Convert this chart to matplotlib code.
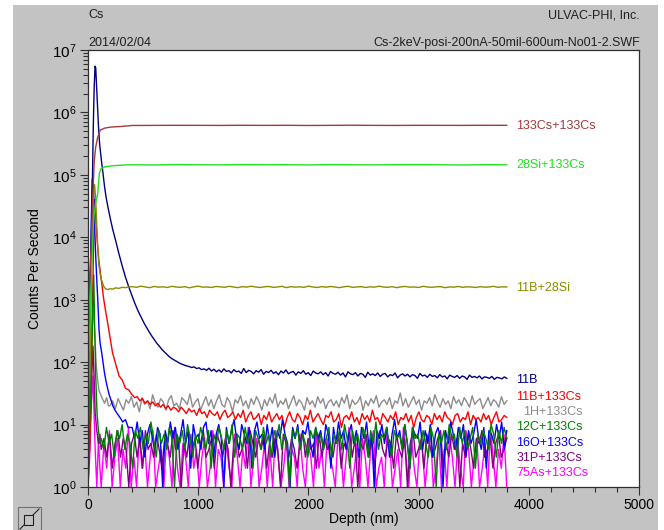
import numpy as np
import matplotlib
matplotlib.use("Agg")
import matplotlib.pyplot as plt
from matplotlib.patches import Rectangle
from matplotlib.lines import Line2D
from matplotlib.ticker import LogLocator, MultipleLocator, NullFormatter

plt.rcParams['font.family'] = ['Liberation Sans', 'DejaVu Sans']
plt.rcParams['font.size'] = 9
plt.rcParams['mathtext.fontset'] = 'custom'
plt.rcParams['mathtext.rm'] = 'Liberation Sans'
plt.rcParams['mathtext.default'] = 'regular'

END_DEPTH = 3800

# ---- data (depth in nm, counts per second) ----
# 133Cs+133Cs
cs2_head_depth = [0, 15, 30, 42, 50, 57, 70, 88, 111, 150, 200, 250, 300, 340, 370]
cs2_head = [800, 2000, 8000, 4e4, 9e4, 1.7e5, 2.8e5, 4e5, 5.2e5, 5.6e5, 5.8e5, 5.9e5, 5.95e5, 6.05e5, 6.1e5]
cs2_tail = [618000, 620000, 622000, 621000, 619000, 623000, 620000, 622000, 618000,
            621000, 624000, 620000, 619000, 622000, 621000, 620000, 623000, 621000]

# 28Si+133Cs
si_head_depth = [0, 15, 30, 45, 55, 68, 88, 103, 118, 135, 160, 200, 250, 300, 350]
si_head = [40, 300, 2500, 1.2e4, 2.2e4, 3.5e4, 5e4, 1.05e5, 1.25e5, 1.3e5, 1.35e5, 1.38e5, 1.41e5, 1.43e5, 1.44e5]
si_tail = [145000, 144000, 146000, 145000, 144500, 146000, 145000, 145500, 144000,
           146000, 145000, 144500, 145500, 146000, 145000, 144000, 145500, 145000]

# 11B+28Si
bsi_head_depth = [0, 10, 20, 30, 40, 50, 60, 70, 80, 90, 100, 115, 130, 145, 160, 180,
                  200, 225, 250, 280, 310, 340, 370]
bsi_head = [15, 40, 150, 1500, 1.5e4, 5e4, 7e4, 4e4, 1.5e4, 6e3, 3.4e3, 2.3e3, 1.9e3, 1.6e3,
            1.5e3, 1.45e3, 1.5e3, 1.48e3, 1.55e3, 1.52e3, 1.58e3, 1.56e3, 1.6e3]
bsi_tail = [1620, 1580, 1650, 1600, 1560, 1630, 1590, 1610, 1570, 1640, 1600, 1580, 1620, 1550,
            1610, 1650, 1590, 1600, 1570, 1630, 1610, 1580, 1640, 1600, 1560, 1620, 1590, 1650,
            1600, 1570, 1610, 1630, 1580, 1600, 1640, 1560, 1620, 1590, 1610, 1580, 1650, 1600,
            1570, 1620, 1590, 1630, 1600, 1560, 1610, 1640, 1580, 1600, 1620, 1570, 1610, 1590,
            1650, 1600, 1580, 1620, 1560, 1610, 1630, 1590, 1600, 1570, 1640, 1600, 1580, 1610,
            1620, 1560, 1600, 1590, 1630, 1580, 1610, 1600, 1570, 1620, 1590, 1600, 1640, 1580,
            1610, 1600]

# 11B
b11_head_depth = [0, 10, 20, 30, 40, 48, 56, 64, 70, 78, 86, 95, 105, 120, 135, 150, 165,
                  185, 205, 226, 250, 280, 310, 340, 370]
b11_head = [1700, 1800, 2600, 9000, 8e4, 6e5, 2.5e6, 5.5e6, 5.2e6, 2.6e6, 1.2e6, 6e5, 3.2e5,
            1.8e5, 1.1e5, 6.5e4, 4.3e4, 2.8e4, 1.9e4, 1.3e4, 9000, 5500, 3500, 2300, 1600]
b11_tail = [1150, 900, 720, 590, 490, 410, 350, 300, 260, 228, 200, 180, 160, 146, 133, 122,
            114, 108, 102, 97, 93, 90, 87, 85, 82, 84, 79, 81, 76, 78, 74, 80, 72, 77, 70, 75,
            69, 78, 71, 73, 67, 76, 70, 72, 66, 79, 68, 74, 71, 65, 73, 69, 76, 64, 71, 68, 74,
            66, 70, 63, 72, 67, 75, 65, 69, 71, 62, 70, 66, 73, 64, 68, 61, 72, 67, 65, 70, 63,
            68, 60, 71, 66, 64, 69, 62, 67, 58, 70, 65, 63, 68, 60, 66, 64, 57, 69, 62, 65, 61,
            67, 59, 64, 66, 58, 63, 61, 67, 56, 62, 65, 60, 64, 58, 63, 61, 55, 66, 60, 62, 57,
            64, 59, 61, 56, 63, 58, 60, 54, 62, 59, 57, 61, 55, 60, 58, 53, 62, 57, 59, 56, 60,
            54, 58, 57, 55, 59, 53, 57, 56, 54, 58, 55]

# 11B+133Cs
bcs_head_depth = [0, 15, 30, 42, 52, 60, 68, 78, 88, 100, 118, 140, 160, 178, 200, 223, 250,
                  282, 310, 340, 370]
bcs_head = [2, 4, 40, 800, 1.2e4, 4e4, 2.5e4, 1.2e4, 7e3, 4e3, 2.3e3, 1.1e3, 650, 430, 250,
            140, 95, 60, 52, 38, 36]
bcs_tail = [30, 27, 28, 24, 26, 22, 24, 21, 23, 20, 22, 19, 21, 18, 20, 17, 19, 18, 16, 19, 17,
            15, 18, 16, 17, 14, 18, 15, 16, 13, 17, 15, 14, 16, 12, 15, 17, 13, 14, 16, 12, 15,
            13, 17, 11, 14, 16, 12, 13, 15, 10, 14, 12, 16, 11, 13, 15, 12, 14, 9, 13, 16, 12,
            11, 15, 13, 10, 14, 12, 17, 11, 13, 15, 12, 10, 14, 13, 16, 11, 12, 15, 9, 13, 14,
            12, 16, 11, 13, 10, 15, 12, 14, 11, 17, 12, 13, 10, 15, 13, 11, 14, 12, 16, 10, 13,
            12, 15, 11, 14, 9, 13, 16, 12, 11, 14, 13, 10, 15, 12, 14, 11, 16, 13, 12, 10, 14,
            15, 11, 13, 12, 16, 10, 14, 12, 13, 11, 15, 12, 14, 10, 13, 16, 11, 12, 14, 13]

# 1H+133Cs
h1_head_depth = [0, 15, 30, 45, 55, 65, 75, 88, 100, 115, 130, 150, 170, 185]
h1_head = [8, 40, 250, 700, 450, 200, 90, 50, 35, 30, 26, 22, 27, 20]
h1_tail = [20, 24, 18, 26, 21, 17, 25, 22, 28, 19, 23, 16, 27, 21, 24, 18, 30, 22, 19, 26, 23,
           17, 25, 29, 20, 22, 18, 27, 24, 21, 31, 19, 23, 26, 17, 22, 28, 20, 25, 18, 24, 30,
           21, 19, 27, 23, 16, 25, 22, 29, 20, 24, 18, 26, 21, 28, 23, 17, 25, 20, 27, 22, 31,
           19, 24, 21, 26, 18, 23, 29, 20, 25, 22, 17, 27, 21, 24, 19, 28, 22, 26, 18, 23, 25,
           20, 24, 19, 27, 22, 30, 18, 25, 21, 23, 28, 17, 24, 20, 26, 22, 29, 19, 23, 25, 21,
           27, 18, 24, 22, 32, 20, 26, 19, 23, 28, 21, 25, 17, 24, 22, 27, 20, 30, 23, 19, 26,
           21, 24, 18, 28, 22, 25, 20, 27, 23, 19, 29, 21, 24, 26, 18, 22, 27, 20, 25, 23, 19,
           28, 21, 24]

# 12C+133Cs
c12_head_depth = [0, 15, 30, 42, 52, 60, 70, 82, 95, 108]
c12_head = [2, 10, 80, 600, 2500, 400, 60, 15, 8, 5]
c12_tail = [6, 4, 9, 5, 7, 3, 8, 6, 10, 4, 7, 5, 2, 8, 6, 9, 4, 7, 5, 11, 6, 3, 8, 5, 7, 4, 9,
            6, 1, 7, 5, 8, 4, 10, 6, 3, 7, 5, 9, 6, 4, 8, 2, 7, 5, 9, 6, 4, 8, 5, 10, 3, 7, 6, 4,
            9, 5, 7, 2, 8, 6, 4, 9, 5, 7, 3, 8, 6, 10, 4, 7, 5, 1, 8, 6, 9, 4, 7, 5, 3, 8, 6, 9,
            5, 7, 4, 6, 9, 3, 7, 5, 8, 4, 10, 6, 2, 8, 5, 7, 4, 9, 6, 3, 8, 5, 11, 4, 7, 6, 9, 5,
            3, 8, 6, 7, 4, 10, 5, 2, 9, 6, 7, 4, 8, 5, 3, 9, 6, 1, 7, 5, 8, 4, 10, 6, 7, 3, 9, 5,
            8, 4, 6, 9, 2, 7, 5, 8, 6, 4, 10, 7, 3, 8, 5, 9, 6]

# 16O+133Cs
o16_head_depth = [0, 10, 20, 30, 38, 45, 52, 60, 70, 80, 90, 100, 110, 122, 133, 148, 163,
                  178, 192, 208, 225, 245, 265, 290, 315, 340, 365]
o16_head = [3, 60, 1500, 2e4, 8e4, 1e5, 5e4, 1.5e4, 5e3, 2e3, 900, 330, 200, 150, 110, 70, 50,
            38, 30, 25, 20, 17, 15, 13, 11, 12, 9]
o16_tail = [9, 6, 11, 5, 8, 3, 7, 10, 6, 4, 9, 7, 1, 8, 5, 11, 6, 9, 4, 7, 12, 5, 8, 2, 10, 6,
            7, 4, 9, 11, 5, 8, 3, 7, 10, 6, 1, 9, 5, 8, 12, 6, 4, 10, 7, 5, 9, 2, 8, 11, 6, 7, 4,
            10, 5, 9, 3, 8, 6, 12, 7, 5, 1, 9, 6, 10, 4, 8, 7, 11, 5, 3, 9, 6, 8, 4, 10, 7, 2, 9,
            5, 11, 6, 8, 4, 7, 10, 5, 8, 3, 9, 6, 11, 4, 7, 1, 8, 6, 10, 5, 9, 3, 7, 12, 6, 8, 4,
            10, 5, 2, 9, 7, 6, 11, 4, 8, 5, 10, 3, 7, 9, 6, 1, 8, 5, 11, 7, 4, 9, 6, 10, 3, 8, 5,
            7, 12, 6, 4, 9, 2, 8, 7, 5, 10, 6, 11, 4, 8]

# 31P+133Cs
p31_head_depth = [0, 15, 30, 45, 55, 65, 80, 95, 108]
p31_head = [1, 5, 40, 180, 60, 15, 8, 5, 7]
p31_tail = [4, 6, 3, 7, 2, 5, 8, 3, 6, 4, 1, 5, 7, 3, 6, 2, 8, 4, 5, 3, 7, 4, 2, 6, 5, 3, 8, 4,
            6, 1, 5, 3, 7, 4, 6, 2, 5, 8, 3, 4, 6, 2, 7, 5, 3, 6, 4, 1, 5, 7, 3, 4, 6, 2, 8, 5, 3,
            6, 4, 7, 2, 5, 3, 6, 4, 1, 7, 5, 3, 6, 4, 2, 5, 8, 3, 6, 4, 5, 2, 7, 3, 6, 4, 5, 3, 6,
            7, 2, 5, 4, 8, 3, 6, 1, 5, 4, 7, 3, 6, 2, 5, 8, 4, 3, 6, 5, 2, 7, 4, 3, 6, 1, 5, 8, 3,
            4, 6, 2, 7, 5, 3, 4, 6, 8, 2, 5, 3, 7, 4, 6, 1, 5, 3, 7, 4, 2, 6, 5, 8, 3, 4, 6, 2, 5,
            7, 3, 4, 6]

# 75As+133Cs
as75_head_depth = [0, 15, 30, 45, 55, 65, 80, 95, 108]
as75_head = [1, 3, 20, 60, 15, 4, 1, 6, 2]
as75_tail = [1, 5, 2, 8, 1, 3, 6, 1, 4, 2, 9, 1, 3, 1, 7, 2, 5, 1, 3, 8, 1, 2, 4, 1, 6, 3, 1, 9,
             2, 1, 5, 3, 1, 7, 2, 4, 1, 3, 6, 1, 2, 8, 1, 4, 3, 1, 5, 2, 1, 7, 3, 1, 4, 2, 9, 1, 3,
             6, 1, 2, 5, 1, 4, 1, 8, 3, 1, 2, 6, 1, 4, 3, 1, 7, 2, 1, 5, 3, 1, 8, 2, 4, 1, 6, 3, 2,
             1, 7, 4, 1, 3, 9, 1, 2, 5, 1, 6, 3, 1, 4, 8, 1, 2, 3, 1, 7, 5, 1, 2, 4, 1, 9, 3, 1, 6,
             2, 1, 5, 4, 1, 3, 8, 1, 2, 6, 1, 4, 1, 7, 3, 1, 5, 2, 1, 8, 4, 1, 3, 6, 1, 2, 5, 1, 9,
             3, 1, 4, 2, 7, 1]


def profile(head_depth, head, tail, tail_from):
    d = np.concatenate([head_depth, np.linspace(tail_from, END_DEPTH, len(tail))])
    c = np.concatenate([head, tail])
    return d, c


# (label, colour, data, label y, label x)  drawn bottom to top
series = [
    ('1H+133Cs', '#8c8c8c', (h1_head_depth, h1_head, h1_tail, 200), 16, 3945),
    ('75As+133Cs', '#ff00ff', (as75_head_depth, as75_head, as75_tail, 120), 1.7, 3885),
    ('31P+133Cs', '#800080', (p31_head_depth, p31_head, p31_tail, 120), 2.9, 3885),
    ('11B+133Cs', '#ff0000', (bcs_head_depth, bcs_head, bcs_tail, 400), 28, 3885),
    ('16O+133Cs', '#0000ff', (o16_head_depth, o16_head, o16_tail, 400), 5.1, 3885),
    ('12C+133Cs', '#008000', (c12_head_depth, c12_head, c12_tail, 120), 9.3, 3885),
    ('11B', '#000080', (b11_head_depth, b11_head, b11_tail, 400), 51, 3885),
    ('11B+28Si', '#8c8c00', (bsi_head_depth, bsi_head, bsi_tail, 400), 1.55e3, 3885),
    ('28Si+133Cs', '#22e022', (si_head_depth, si_head, si_tail, 400), 1.45e5, 3885),
    ('133Cs+133Cs', '#a33b3b', (cs2_head_depth, cs2_head, cs2_tail, 400), 6.0e5, 3885),
]

W, H = 664, 530
fig = plt.figure(figsize=(W / 100, H / 100), dpi=100, facecolor='white')


def fx(px):
    return px / W


def fy(py):
    return 1 - py / H


# grey panel
fig.patches.append(Rectangle((fx(13), 0), fx(658) - fx(13), fy(5), transform=fig.transFigure,
                             facecolor='#c3c3c3', edgecolor='none', zorder=-10))

left, right, top, bottom = 88, 639, 50, 487
ax = fig.add_axes([fx(left), fy(bottom), fx(right) - fx(left), fy(top) - fy(bottom)])
ax.set_facecolor('white')

for label, color, data, ly, lx in series:
    d, c = profile(*data)
    ax.plot(d, c, color=color, lw=1.0)
    ax.text(lx, ly, label, color=color, fontsize=9, ha='left', va='center', clip_on=False)

ax.set_yscale('log')
ax.set_xlim(0, 5000)
ax.set_ylim(1, 1e7)
ax.xaxis.set_major_locator(MultipleLocator(1000))
ax.xaxis.set_minor_locator(MultipleLocator(200))
ax.yaxis.set_minor_locator(LogLocator(base=10, subs=np.arange(2, 10), numticks=20))
ax.yaxis.set_minor_formatter(NullFormatter())
ax.set_yticks([10 ** k for k in range(8)])
ax.set_yticklabels(['$10^{%d}$' % k for k in range(8)], fontsize=11)
ax.tick_params(axis='both', which='major', direction='out', length=6, width=0.8, color='#303030', pad=2)
ax.tick_params(axis='both', which='minor', direction='out', length=3.5, width=0.8, color='#303030')
ax.tick_params(axis='x', labelsize=10)
for s in ax.spines.values():
    s.set_color('#303030')
    s.set_linewidth(0.9)

ax.set_xlabel('Depth (nm)', fontsize=10, va='center')
ax.xaxis.set_label_coords(0.5, (bottom - 519) / (bottom - top))
ax.set_ylabel('Counts Per Second', fontsize=10, va='center')
ax.yaxis.set_label_coords((35 - left) / (right - left), 0.5)

# header texts
fig.text(fx(88), fy(15), 'Cs', fontsize=9, ha='left', va='center', color='#202020')
fig.text(fx(640), fy(15), 'ULVAC-PHI, Inc.', fontsize=9, ha='right', va='center', color='#202020')
fig.text(fx(88), fy(43), '2014/02/04', fontsize=9, ha='left', va='center', color='#202020')
fig.text(fx(640), fy(43), 'Cs-2keV-posi-200nA-50mil-600um-No01-2.SWF', fontsize=9,
         ha='right', va='center', color='#202020')

# small zoom button at bottom left
fig.patches.append(Rectangle((fx(18), fy(530)), fx(41) - fx(18), fy(507) - fy(530),
                             transform=fig.transFigure, facecolor='#c3c3c3',
                             edgecolor='#707070', lw=0.8))
fig.patches.append(Rectangle((fx(24), fy(525)), fx(33) - fx(24), fy(515) - fy(525),
                             transform=fig.transFigure, facecolor='none',
                             edgecolor='#202020', lw=0.8))
fig.lines.append(Line2D([fx(33), fx(39)], [fy(515), fy(509)], transform=fig.transFigure,
                        color='#202020', lw=0.8))
fig.lines.append(Line2D([fx(20), fx(24)], [fy(529), fy(525)], transform=fig.transFigure,
                        color='#202020', lw=0.8))

fig.savefig('out.png', dpi=100, facecolor=fig.get_facecolor())
